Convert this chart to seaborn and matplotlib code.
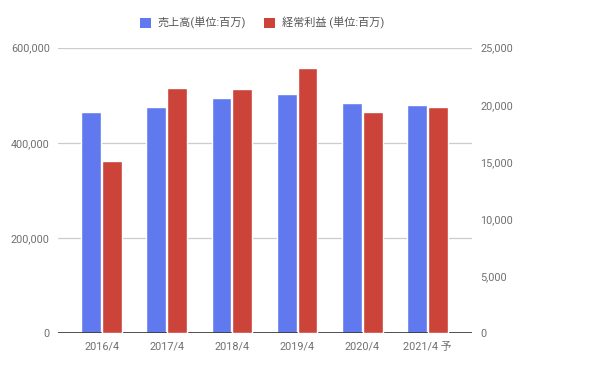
import numpy as np
import pandas as pd
import matplotlib
matplotlib.use("Agg")
import matplotlib.pyplot as plt
from matplotlib.patches import Patch
from matplotlib.ticker import FuncFormatter
import seaborn as sns

# data
years = ["2016/4", "2017/4", "2018/4", "2019/4", "2020/4", "2021/4 予"]
sales = [464000, 475500, 494500, 502500, 484000, 479500]   # left axis
profit = [15100, 21450, 21400, 23200, 19400, 19800]       # right axis
sales_label = "売上高(単位:百万)"
profit_label = "経常利益 (単位:百万)"

blue = "#6079ee"
red = "#cc4339"

sns.set_theme(style="white")
plt.rcParams["font.family"] = ["Roboto", "Noto Sans CJK JP", "DejaVu Sans"]

# long tables, one per axis (other series left empty so dodge positions match)
df_left = pd.DataFrame({
    "year": years * 2,
    "series": [sales_label] * len(years) + [profit_label] * len(years),
    "value": sales + [np.nan] * len(years),
})
df_right = pd.DataFrame({
    "year": years * 2,
    "series": [sales_label] * len(years) + [profit_label] * len(years),
    "value": [np.nan] * len(years) + profit,
})
pal = {sales_label: blue, profit_label: red}
order = [sales_label, profit_label]

fig = plt.figure(figsize=(5.95, 3.69), dpi=100)
ax = fig.add_axes([0.0975, 0.0967, 0.6955, 0.774])
ax2 = ax.twinx()

sns.barplot(data=df_left, x="year", y="value", hue="series", hue_order=order,
            palette=pal, width=0.635, gap=0.04, ax=ax, legend=False,
            errorbar=None, saturation=1)
sns.barplot(data=df_right, x="year", y="value", hue="series", hue_order=order,
            palette=pal, width=0.635, gap=0.04, ax=ax2, legend=False,
            errorbar=None, saturation=1)

ax.set_ylim(0, 600000)
ax2.set_ylim(0, 25000)
ax.set_xlim(-0.667, 5.68)
ax.set_yticks([0, 200000, 400000, 600000])
ax2.set_yticks([0, 5000, 10000, 15000, 20000, 25000])
fmt = FuncFormatter(lambda v, p: f"{int(v):,}")
ax.yaxis.set_major_formatter(fmt)
ax2.yaxis.set_major_formatter(fmt)

ax.set_axisbelow(True)
ax.grid(axis="y", color="#cccccc", linewidth=0.9)
ax.grid(axis="x", visible=False)
ax2.grid(False)
for a in (ax, ax2):
    a.set_xlabel("")
    a.set_ylabel("")
    for s in a.spines.values():
        s.set_visible(False)
    a.tick_params(length=0, colors="#707070", labelsize=7.8)
ax.tick_params(axis="y", pad=6)
ax2.tick_params(axis="y", pad=6)
ax.tick_params(axis="x", pad=6)
ax.axhline(0, color="#333333", linewidth=1.2, zorder=5)

handles = [Patch(facecolor=blue, edgecolor="none"),
           Patch(facecolor=red, edgecolor="none")]
fig.legend(handles, [sales_label, profit_label], loc="center",
           bbox_to_anchor=(262 / 595, 1 - 23 / 369), ncol=2, frameon=False,
           fontsize=8, labelcolor="#555555", handlelength=1.0,
           handleheight=1.0, handletextpad=0.6, columnspacing=1.6)

fig.savefig("out.png", dpi=100)
